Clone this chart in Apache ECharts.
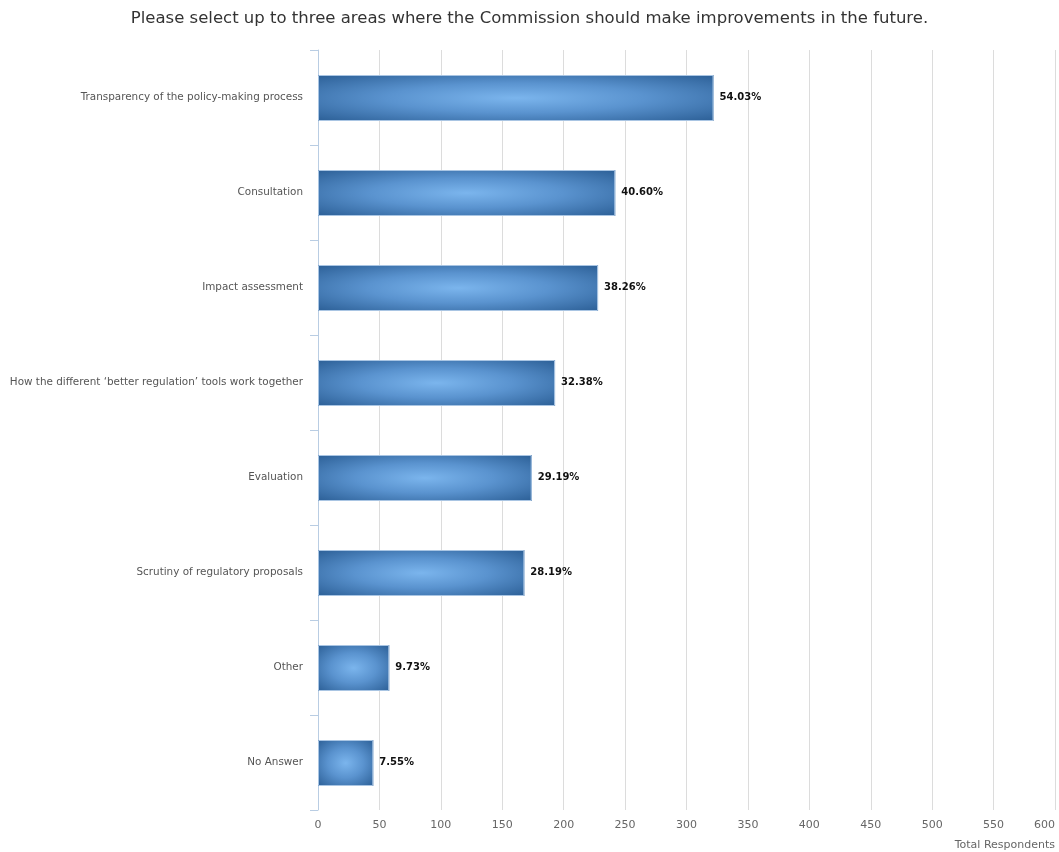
<!DOCTYPE html>
<html><head><meta charset="utf-8">
<script src="https://cdn.jsdelivr.net/npm/echarts@6/dist/echarts.min.js"></script>
<style>html,body{margin:0;padding:0;background:#fff}#c{width:1059px;height:852px}</style>
</head><body><div id="c"></div>
<script>
const categories = [
  "Transparency of the policy-making process",
  "Consultation",
  "Impact assessment",
  "How the different \u2018better regulation\u2019 tools work together",
  "Evaluation",
  "Scrutiny of regulatory proposals",
  "Other",
  "No Answer"
];
const respondents = [322, 242, 228, 193, 174, 168, 58, 45];
const percentLabels = ["54.03%", "40.60%", "38.26%", "32.38%", "29.19%", "28.19%", "9.73%", "7.55%"];
const valueTicks = [0, 50, 100, 150, 200, 250, 300, 350, 400, 450, 500, 550, 600];

const FONT = "DejaVu Sans";
const chart = echarts.init(document.getElementById('c'), null, {renderer: 'canvas'});

function renderBar(params, api) {
  const v = api.value(0), idx = api.value(1);
  const start = api.coord([0, idx]);
  const end = api.coord([v, idx]);
  const band = api.size([0, 1])[1];
  const h = Math.round(band * 0.48);
  const w = end[0] - start[0];
  const top = Math.round(start[1] - h / 2);
  return {
    type: 'group',
    children: [
      {
        type: 'rect', x: start[0], y: top, scaleX: w / h,
        shape: {x: 0, y: 0, width: h, height: h},
        style: {fill: {type: 'radial', x: 0.5, y: 0.5, r: 0.72, colorStops: [
          {offset: 0, color: '#7bb5ed'},
          {offset: 0.45, color: '#5a93cf'},
          {offset: 1, color: '#2a5d94'}
        ]}}
      },
      {
        type: 'rect',
        shape: {x: start[0] + 0.5, y: top + 0.5, width: w - 1, height: h - 1},
        style: {fill: 'none', stroke: '#a9c5e3', lineWidth: 1}
      },
      {
        type: 'text', x: end[0] + 6, y: start[1],
        style: {
          text: percentLabels[params.dataIndex],
          fontFamily: FONT, fontSize: 10, fontWeight: 'bold', fill: '#111',
          verticalAlign: 'middle', align: 'left'
        }
      }
    ]
  };
}

chart.setOption({
  animation: false,
  title: {
    text: "Please select up to three areas where the Commission should make improvements in the future.",
    left: 'center', top: 5,
    textStyle: {fontFamily: FONT, fontSize: 16.5, fontWeight: 'normal', color: '#333'}
  },
  grid: {left: 318, right: 4, top: 50, bottom: 42, containLabel: false, outerBoundsMode: 'none'},
  xAxis: {
    type: 'value', min: valueTicks[0], max: valueTicks[valueTicks.length - 1], interval: 50,
    name: 'Total Respondents', nameLocation: 'end', nameGap: 0,
    nameTextStyle: {fontFamily: FONT, fontSize: 11, color: '#666', align: 'right', verticalAlign: 'top', padding: [30, 0, 0, 0]},
    axisLine: {show: false}, axisTick: {show: false},
    axisLabel: {fontFamily: FONT, fontSize: 11, color: '#666', margin: 10, alignMaxLabel: 'right'},
    splitLine: {show: true, lineStyle: {color: '#dcdcdc', width: 1}}
  },
  yAxis: {
    type: 'category', data: categories, inverse: true,
    axisLine: {show: true, lineStyle: {color: '#b9cde3', width: 1}},
    axisTick: {show: true, length: 8, alignWithLabel: false, lineStyle: {color: '#b9cde3'}},
    axisLabel: {fontFamily: FONT, fontSize: 10.4, color: '#555', margin: 15}
  },
  series: [
    {
      type: 'custom', renderItem: renderBar, z: 3,
      encode: {x: 0, y: 1},
      data: respondents.map((v, i) => [v, i])
    }
  ]
});
</script></body></html>
